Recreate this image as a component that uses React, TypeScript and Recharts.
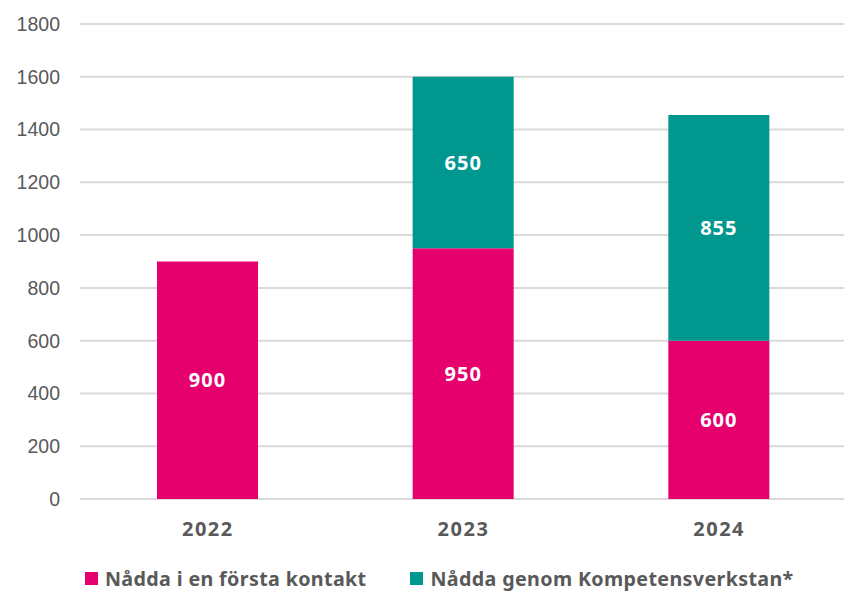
import React from 'react'
import { BarChart, Bar, XAxis, YAxis, CartesianGrid, Legend, LabelList } from 'recharts'

const years = ['2022', '2023', '2024']
const firstContact = [900, 950, 600]
const viaWorkshop = [0, 650, 855]
const yTicks = [0, 200, 400, 600, 800, 1000, 1200, 1400, 1600, 1800]

const PINK = '#E5006D'
const TEAL = '#00978F'
const FONT = '"Noto Sans", "Open Sans", sans-serif'

const data = years.map((year, i) => ({
  year,
  first: firstContact[i],
  workshop: viaWorkshop[i] || null,
}))

const legendItems = [
  { label: 'Nådda i en första kontakt', color: PINK },
  { label: 'Nådda genom Kompetensverkstan*', color: TEAL },
]

const ChartLegend = () => (
  <div style={{ display: 'flex', alignItems: 'flex-end', height: 40, paddingLeft: 85, gap: 44, boxSizing: 'border-box', paddingBottom: 1 }}>
    {legendItems.map((item) => (
      <div key={item.label} style={{ display: 'flex', alignItems: 'center', gap: 7 }}>
        <span style={{ width: 13, height: 13, background: item.color, display: 'inline-block' }} />
        <span style={{ fontFamily: FONT, fontWeight: 700, fontSize: 19.7, color: '#595959', letterSpacing: 0.35 }}>{item.label}</span>
      </div>
    ))}
  </div>
)

export default function App() {
  return (
    <div style={{ position: 'absolute', left: 0, top: 0, width: 844, height: 593, overflow: 'hidden', background: '#fff' }}>
      <BarChart width={850} height={593} data={data} margin={{ top: 24, right: 3, left: 0, bottom: 0 }} barSize={101}>
        <CartesianGrid vertical={false} stroke="#d9d9d9" strokeWidth={2} />
        <XAxis
          dataKey="year"
          axisLine={false}
          tickLine={false}
          height={54}
          tickMargin={17}
          tick={{ fontFamily: FONT, fontWeight: 700, fontSize: 20, fill: '#595959', letterSpacing: 1.5 }}
        />
        <YAxis
          domain={[0, 1800]}
          ticks={yTicks}
          axisLine={false}
          tickLine={false}
          width={80}
          tickMargin={14}
          tick={{ fontFamily: 'Arial, "Liberation Sans", sans-serif', fontSize: 19.5, fill: '#595959' }}
        />
        <Legend verticalAlign="bottom" content={<ChartLegend />} wrapperStyle={{ height: 40, left: 0, width: 844 }} />
        <Bar dataKey="first" stackId="a" fill={PINK} isAnimationActive={false}>
          <LabelList dataKey="first" position="center" fill="#fff" fontFamily={FONT} fontWeight={700} fontSize={20} letterSpacing={1} />
        </Bar>
        <Bar dataKey="workshop" stackId="a" fill={TEAL} isAnimationActive={false}>
          <LabelList dataKey="workshop" position="center" fill="#fff" fontFamily={FONT} fontWeight={700} fontSize={20} letterSpacing={1} />
        </Bar>
      </BarChart>
    </div>
  )
}
